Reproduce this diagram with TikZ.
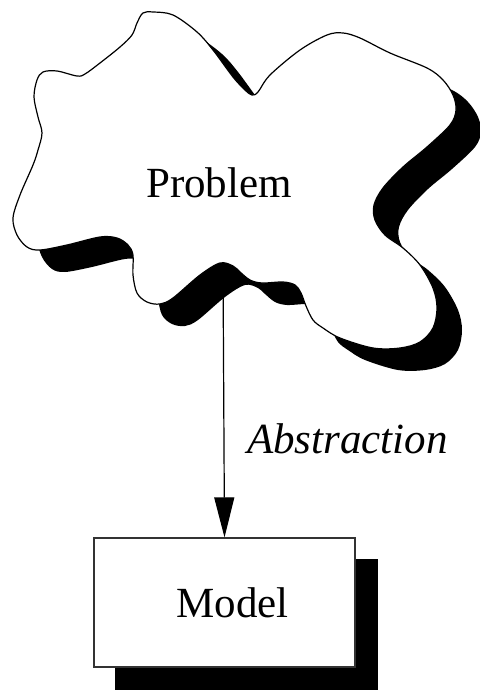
\documentclass[tikz,border=0pt]{standalone}
\usepackage{fontspec}
\setmainfont{Liberation Serif}
\usetikzlibrary{arrows.meta,backgrounds}
\tikzset{
  cloudpath/.style={insert path={plot[smooth cycle, tension=0.55] coordinates {
    (153,12) (173,15) (197,32) (213,50) (233,77) (245,90) (252,95) (258,92)
    (270,75) (300,50) (327,35) (343,33) (360,38) (390,53) (427,68) (443,80)
    (453,95) (456,110) (450,125) (427,147) (403,167) (383,188) (374,205)
    (375,220) (385,235) (403,248) (420,265) (433,288) (437,308) (433,328)
    (420,342) (400,348) (373,348) (340,338) (323,328) (313,320) (306,306)
    (301,293) (295,285) (283,282) (262,283) (250,280) (240,272) (233,266)
    (220,263) (200,275) (173,298) (160,304) (147,302) (137,293) (133,275)
    (133,255) (128,245) (117,238) (100,237) (67,245) (40,250) (27,247)
    (17,235) (13,218) (20,195) (33,165) (38,150) (42,133) (38,117) (34,97)
    (37,80) (43,72) (57,71) (77,76) (85,74) (100,63) (120,47) (132,35)
    (137,23) (143,13)}}},
  shadowfill/.style={fill=black},
  outline/.style={draw=black, line width=1.2pt},
  bigtext/.style={font=\fontsize{43}{50}\selectfont, inner sep=0pt},
  boxstyle/.style={draw=black!80, line width=1.2pt, fill=white,
    minimum width=261pt, minimum height=129pt, inner sep=0pt,
    font=\fontsize{43}{50}\selectfont},
  arrowstyle/.style={draw=black, line width=1.2pt,
    -{Triangle[length=40pt,width=20pt]}}
}
\begin{document}
\begin{tikzpicture}[x=1pt,y=-1pt]
\useasboundingbox (0,0) rectangle (479,692);
\coordinate (cloudbottom) at (223,265);
% model box and its shadow
\node[boxstyle] (model) at (224.5,602.5) {\hspace*{8pt}Model\hspace*{-8pt}};
\begin{scope}[on background layer]
\fill[shadowfill] ([shift={(22,22)}]model.north west) rectangle ([shift={(22,22)}]model.south east);
\end{scope}
% arrow
\draw[arrowstyle] (cloudbottom) -- (model.north);
% cloud shadow and cloud
\path[shadowfill, shift={(25,22)}, cloudpath];
\path[outline, fill=white, cloudpath];
\node[bigtext, anchor=base] (problem) at (219,198) {Problem};
\node[bigtext, anchor=base west] (abstraction) at (247,453) {\itshape Abstraction};
\end{tikzpicture}
\end{document}
